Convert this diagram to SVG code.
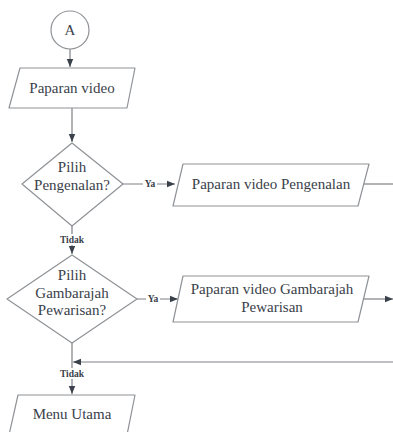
<svg xmlns="http://www.w3.org/2000/svg" width="393" height="432" viewBox="0 0 393 432">
  <defs>
    <marker id="arrow" viewBox="0 0 10 10" refX="10" refY="5" markerWidth="8" markerHeight="8" markerUnits="userSpaceOnUse" orient="auto">
      <path d="M0,1 L10,5 L0,9 Z" fill="#3a414a"/>
    </marker>
  </defs>
  <style>
    .shape { fill: #ffffff; stroke: #8f9296; stroke-width: 1.2; stroke-linejoin: round; }
    .label { font-family: "Liberation Serif", "DejaVu Serif", serif; font-size: 15px; fill: #3a414a; text-anchor: middle; dominant-baseline: central; }
    .edge { fill: none; stroke: #7d8085; stroke-width: 1.2; }
    .tag { font-family: "Liberation Serif", "DejaVu Serif", serif; font-size: 9.5px; font-weight: bold; fill: #3a414a; text-anchor: middle; dominant-baseline: central; }
    .tagbg { fill: #ffffff; }
  </style>
  <rect width="393" height="432" fill="#ffffff"/>

  <!-- connectors -->
  <g id="connectors">
    <path class="edge" d="M70,49 V67" marker-end="url(#arrow)"/>
    <path class="edge" d="M72,108 V142" marker-end="url(#arrow)"/>
    <path class="edge" d="M123,184 H175" marker-end="url(#arrow)"/>
    <path class="edge" d="M364,184 H393"/>
    <path class="edge" d="M72,226 V254" marker-end="url(#arrow)"/>
    <path class="edge" d="M137,299 H178" marker-end="url(#arrow)"/>
    <path class="edge" d="M364,299 H393" marker-end="url(#arrow)"/>
    <path class="edge" d="M393,362 H73" marker-end="url(#arrow)"/>
    <path class="edge" d="M72,343 V394" marker-end="url(#arrow)"/>
    <rect class="tagbg" x="143" y="178" width="14" height="11"/>
    <text class="tag" x="150" y="184">Ya</text>
    <rect class="tagbg" x="146" y="293" width="14" height="11"/>
    <text class="tag" x="153" y="299">Ya</text>
    <rect class="tagbg" x="57" y="234" width="30" height="11"/>
    <text class="tag" x="72" y="240">Tidak</text>
    <rect class="tagbg" x="57" y="368" width="30" height="11"/>
    <text class="tag" x="72" y="374">Tidak</text>
  </g>

  <g id="start-a">
    <circle class="shape" cx="70" cy="30" r="19"/>
    <text class="label" x="70" y="30">A</text>
  </g>

  <g id="paparan-video">
    <path class="shape" d="M20,68 H135 L127,108 H9 Z"/>
    <text class="label" x="72" y="88">Paparan video</text>
  </g>

  <g id="pilih-pengenalan">
    <path class="shape" d="M72,143 L123,184 L72,226 L22,184 Z"/>
    <text class="label" x="72" y="167">Pilih</text>
    <text class="label" x="72" y="185">Pengenalan?</text>
  </g>

  <g id="video-pengenalan">
    <path class="shape" d="M183,164 H369 L358,206 H173 Z"/>
    <text class="label" x="271" y="184">Paparan video Pengenalan</text>
  </g>

  <g id="pilih-gambarajah">
    <path class="shape" d="M72,255 L137,299 L72,343 L7,299 Z"/>
    <text class="label" x="72" y="275">Pilih</text>
    <text class="label" x="72" y="293">Gambarajah</text>
    <text class="label" x="72" y="310">Pewarisan?</text>
  </g>

  <g id="video-gambarajah">
    <path class="shape" d="M183,276 H369 L358,322 H173 Z"/>
    <text class="label" x="272" y="289">Paparan video Gambarajah</text>
    <text class="label" x="272" y="307">Pewarisan</text>
  </g>

  <g id="menu-utama">
    <path class="shape" d="M18,395 H135 L127,435 H9 Z"/>
    <text class="label" x="72" y="414">Menu Utama</text>
  </g>
</svg>
